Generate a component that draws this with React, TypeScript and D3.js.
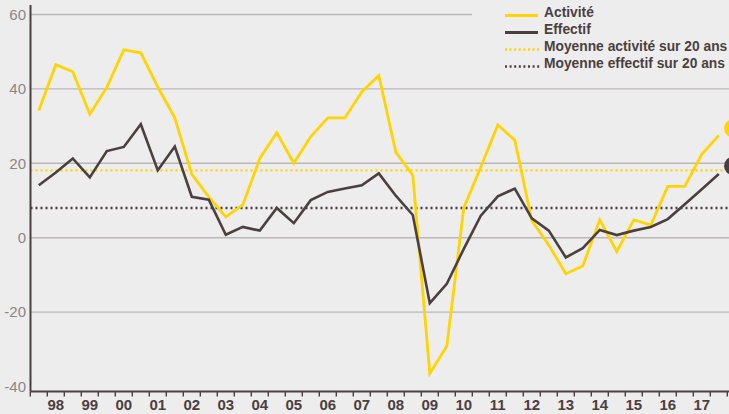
import React from "react";
import * as d3 from "d3";

// Half-year periods: index 0 = 1997 S2 ... index 40 = 2017 S2
const activite = [
  34.2, 46.5, 44.6, 33.2, 40.4, 50.5, 49.7, 40.5, 32.2, 17, 11, 5.6, 8.8,
  21.3, 28.2, 20, 27.2, 32.2, 32.2, 39.2, 43.6, 23, 16.8, -36.5, -29.2, 8,
  19, 30.3, 26.2, 4.6, -2, -9.7, -7.6, 4.8, -3.7, 4.8, 3.4, 13.8, 13.8, 22.4, 27.5,
];
const effectif = [
  14.1, 17.5, 21.3, 16.2, 23.3, 24.4, 30.5, 18.1, 24.5, 11, 10.2, 0.8, 2.9,
  1.9, 8, 3.9, 10.1, 12.3, 13.2, 14.1, 17.3, 11.3, 6.1, -17.6, -12.4, -3,
  5.9, 11.1, 13.2, 5.2, 1.9, -5.3, -2.8, 2.1, 0.7, 1.9, 2.9, 5, 9, 13, 17.1,
];
const moyenneActivite = 18.1;
const moyenneEffectif = 8.0;
const endMarkers = [29.4, 19.3]; // activité, effectif forecast markers
const yTicks = [-40, -20, 0, 20, 40, 60];
const yearLabels = ["98","99","00","01","02","03","04","05","06","07","08","09","10","11","12","13","14","15","16","17"];
const legendItems = ["Activité", "Effectif", "Moyenne activité sur 20 ans", "Moyenne effectif sur 20 ans"];

const W = 729, H = 414;
const YELLOW = "#ffd400";
const DARK = "#4b3f3f";
const GRID = "#bcb7b7";
const BG = "#ededed";

export default function App() {
  const x = d3.scaleLinear().domain([-0.5, 40.5]).range([30.3, 727.3]);
  const y = d3.scaleLinear().domain([-40, 60]).range([386.5, 14.5]);
  const line = d3.line<number>().x((_, i) => x(i)).y((d) => y(d));
  const axisY = 391.5;
  const tickIdx = d3.range(0, 42);
  const legendStyles = [
    { color: YELLOW, dash: undefined },
    { color: DARK, dash: undefined },
    { color: YELLOW, dash: "2,2.6" },
    { color: DARK, dash: "2,2.6" },
  ];
  return (
    <svg width={W} height={H} style={{ position: "absolute", left: 0, top: 0, background: BG }}
      fontFamily="'Liberation Sans', Arial, sans-serif">
      <rect x={0} y={0} width={W} height={H} fill={BG} />
      {/* gridlines */}
      {yTicks.filter((t) => t > -40).map((t) => (
        <line key={t} x1={30.5} x2={t === 60 ? 472 : W} y1={y(t)} y2={y(t)} stroke={GRID} strokeWidth={1.4} />
      ))}
      {/* y labels */}
      {yTicks.map((t) => (
        <text key={t} x={26} y={y(t)} dy="0.35em" textAnchor="end" fontSize={15} fill="#8b8585">{t}</text>
      ))}
      {/* average lines */}
      <line x1={30.5} x2={W} y1={y(moyenneActivite)} y2={y(moyenneActivite)} stroke={YELLOW} strokeWidth={2.4} strokeDasharray="2,3" />
      <line x1={30.5} x2={W} y1={y(moyenneEffectif)} y2={y(moyenneEffectif)} stroke={DARK} strokeWidth={2.4} strokeDasharray="2,3" />
      {/* series */}
      <path d={line(activite) || ""} fill="none" stroke={YELLOW} strokeWidth={2.8} strokeLinejoin="miter" />
      <path d={line(effectif) || ""} fill="none" stroke={DARK} strokeWidth={2.6} strokeLinejoin="miter" />
      {/* end markers */}
      <circle cx={733} cy={y(endMarkers[0])} r={9} fill={YELLOW} />
      <circle cx={733} cy={y(endMarkers[1])} r={9} fill={DARK} />
      {/* axes */}
      <line x1={30.5} x2={30.5} y1={5} y2={axisY} stroke={DARK} strokeWidth={2} />
      <line x1={30.5} x2={W} y1={axisY} y2={axisY} stroke={DARK} strokeWidth={2} />
      {tickIdx.map((k) => (
        <line key={k} x1={x(k - 0.5)} x2={x(k - 0.5)} y1={axisY} y2={axisY + 5} stroke={DARK} strokeWidth={1.4} />
      ))}
      {yearLabels.map((lab, j) => (
        <text key={lab} x={x(2 * j + 1)} y={409.5} textAnchor="middle" fontSize={15} fontWeight="bold" fill={DARK}>{lab}</text>
      ))}
      {/* legend */}
      {legendItems.map((lab, i) => {
        const by = 17 + i * 17;
        const st = legendStyles[i];
        return (
          <g key={lab}>
            <line x1={505} x2={st.dash ? 540 : 538} y1={by - 1.5} y2={by - 1.5} stroke={st.color}
              strokeWidth={st.dash ? 2.4 : 3} strokeDasharray={st.dash} />
            <text x={544} y={by} fontSize={13.8} fontWeight="bold" fill={DARK}>{lab}</text>
          </g>
        );
      })}
    </svg>
  );
}
